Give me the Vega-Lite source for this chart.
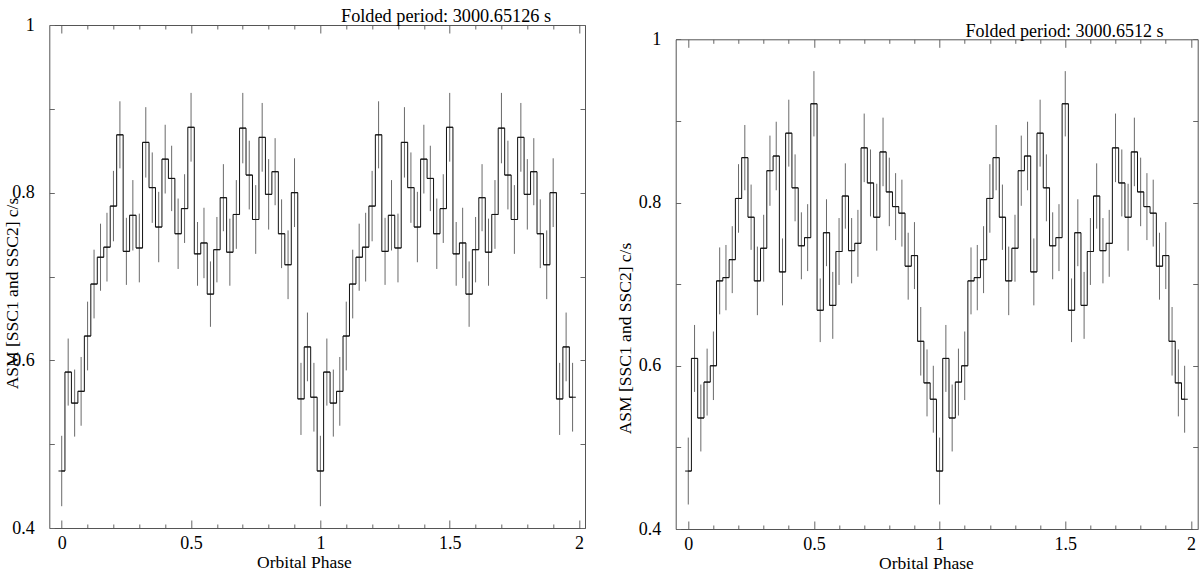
{
  "$schema": "https://vega.github.io/schema/vega-lite/v6.json",
  "background": "white",
  "autosize": {"type": "none"},
  "padding": {"left": 49.3, "top": 25, "right": 2.3, "bottom": 44},
  "width": 1148.4,
  "height": 504,
  "config": {"view": {"stroke": null}, "font": "Liberation Serif"},
  "datasets": {
    "left": [
      {"phase":0,"rate":0.468,"err":0.042},{"phase":0.025,"rate":0.586,"err":0.040},{"phase":0.05,"rate":0.549,"err":0.040},{"phase":0.075,"rate":0.563,"err":0.041},
      {"phase":0.1,"rate":0.629,"err":0.041},{"phase":0.125,"rate":0.691,"err":0.041},{"phase":0.15,"rate":0.723,"err":0.040},{"phase":0.175,"rate":0.735,"err":0.041},
      {"phase":0.2,"rate":0.784,"err":0.042},{"phase":0.225,"rate":0.869,"err":0.040},{"phase":0.25,"rate":0.730,"err":0.040},{"phase":0.275,"rate":0.773,"err":0.042},
      {"phase":0.3,"rate":0.734,"err":0.041},{"phase":0.325,"rate":0.860,"err":0.042},{"phase":0.35,"rate":0.806,"err":0.042},{"phase":0.375,"rate":0.759,"err":0.042},
      {"phase":0.4,"rate":0.840,"err":0.041},{"phase":0.425,"rate":0.817,"err":0.039},{"phase":0.45,"rate":0.751,"err":0.042},{"phase":0.475,"rate":0.781,"err":0.041},
      {"phase":0.5,"rate":0.878,"err":0.041},{"phase":0.525,"rate":0.727,"err":0.038},{"phase":0.55,"rate":0.740,"err":0.042},{"phase":0.575,"rate":0.679,"err":0.039},
      {"phase":0.6,"rate":0.732,"err":0.039},{"phase":0.625,"rate":0.794,"err":0.040},{"phase":0.65,"rate":0.729,"err":0.040},{"phase":0.675,"rate":0.774,"err":0.041},
      {"phase":0.7,"rate":0.877,"err":0.042},{"phase":0.725,"rate":0.821,"err":0.041},{"phase":0.75,"rate":0.768,"err":0.041},{"phase":0.775,"rate":0.866,"err":0.041},
      {"phase":0.8,"rate":0.798,"err":0.042},{"phase":0.825,"rate":0.825,"err":0.040},{"phase":0.85,"rate":0.751,"err":0.041},{"phase":0.875,"rate":0.714,"err":0.041},
      {"phase":0.9,"rate":0.800,"err":0.041},{"phase":0.925,"rate":0.554,"err":0.043},{"phase":0.95,"rate":0.616,"err":0.041},{"phase":0.975,"rate":0.556,"err":0.041},
      {"phase":1,"rate":0.468,"err":0.042},{"phase":1.025,"rate":0.586,"err":0.040},{"phase":1.05,"rate":0.549,"err":0.040},{"phase":1.075,"rate":0.563,"err":0.041},
      {"phase":1.1,"rate":0.629,"err":0.041},{"phase":1.125,"rate":0.691,"err":0.041},{"phase":1.15,"rate":0.723,"err":0.040},{"phase":1.175,"rate":0.735,"err":0.041},
      {"phase":1.2,"rate":0.784,"err":0.042},{"phase":1.225,"rate":0.869,"err":0.040},{"phase":1.25,"rate":0.730,"err":0.040},{"phase":1.275,"rate":0.773,"err":0.042},
      {"phase":1.3,"rate":0.734,"err":0.041},{"phase":1.325,"rate":0.860,"err":0.042},{"phase":1.35,"rate":0.806,"err":0.042},{"phase":1.375,"rate":0.759,"err":0.042},
      {"phase":1.4,"rate":0.840,"err":0.041},{"phase":1.425,"rate":0.817,"err":0.039},{"phase":1.45,"rate":0.751,"err":0.042},{"phase":1.475,"rate":0.781,"err":0.041},
      {"phase":1.5,"rate":0.878,"err":0.041},{"phase":1.525,"rate":0.727,"err":0.038},{"phase":1.55,"rate":0.740,"err":0.042},{"phase":1.575,"rate":0.679,"err":0.039},
      {"phase":1.6,"rate":0.732,"err":0.039},{"phase":1.625,"rate":0.794,"err":0.040},{"phase":1.65,"rate":0.729,"err":0.040},{"phase":1.675,"rate":0.774,"err":0.041},
      {"phase":1.7,"rate":0.877,"err":0.042},{"phase":1.725,"rate":0.821,"err":0.041},{"phase":1.75,"rate":0.768,"err":0.041},{"phase":1.775,"rate":0.866,"err":0.041},
      {"phase":1.8,"rate":0.798,"err":0.042},{"phase":1.825,"rate":0.825,"err":0.040},{"phase":1.85,"rate":0.751,"err":0.041},{"phase":1.875,"rate":0.714,"err":0.041},
      {"phase":1.9,"rate":0.800,"err":0.041},{"phase":1.925,"rate":0.554,"err":0.043},{"phase":1.95,"rate":0.616,"err":0.041},{"phase":1.975,"rate":0.556,"err":0.041}
    ],
    "right": [
      {"phase":0,"rate":0.471,"err":0.041},{"phase":0.025,"rate":0.609,"err":0.041},{"phase":0.05,"rate":0.536,"err":0.041},{"phase":0.075,"rate":0.580,"err":0.041},
      {"phase":0.1,"rate":0.600,"err":0.042},{"phase":0.125,"rate":0.704,"err":0.041},{"phase":0.15,"rate":0.708,"err":0.040},{"phase":0.175,"rate":0.730,"err":0.041},
      {"phase":0.2,"rate":0.805,"err":0.042},{"phase":0.225,"rate":0.855,"err":0.040},{"phase":0.25,"rate":0.782,"err":0.040},{"phase":0.275,"rate":0.704,"err":0.042},
      {"phase":0.3,"rate":0.744,"err":0.041},{"phase":0.325,"rate":0.839,"err":0.043},{"phase":0.35,"rate":0.857,"err":0.042},{"phase":0.375,"rate":0.715,"err":0.041},
      {"phase":0.4,"rate":0.885,"err":0.041},{"phase":0.425,"rate":0.818,"err":0.041},{"phase":0.45,"rate":0.747,"err":0.041},{"phase":0.475,"rate":0.757,"err":0.041},
      {"phase":0.5,"rate":0.921,"err":0.040},{"phase":0.525,"rate":0.668,"err":0.039},{"phase":0.55,"rate":0.763,"err":0.041},{"phase":0.575,"rate":0.674,"err":0.041},
      {"phase":0.6,"rate":0.740,"err":0.041},{"phase":0.625,"rate":0.808,"err":0.040},{"phase":0.65,"rate":0.741,"err":0.040},{"phase":0.675,"rate":0.750,"err":0.041},
      {"phase":0.7,"rate":0.867,"err":0.042},{"phase":0.725,"rate":0.824,"err":0.041},{"phase":0.75,"rate":0.782,"err":0.041},{"phase":0.775,"rate":0.862,"err":0.042},
      {"phase":0.8,"rate":0.813,"err":0.042},{"phase":0.825,"rate":0.795,"err":0.041},{"phase":0.85,"rate":0.787,"err":0.041},{"phase":0.875,"rate":0.722,"err":0.041},
      {"phase":0.9,"rate":0.735,"err":0.041},{"phase":0.925,"rate":0.630,"err":0.042},{"phase":0.95,"rate":0.579,"err":0.041},{"phase":0.975,"rate":0.559,"err":0.041},
      {"phase":1,"rate":0.471,"err":0.041},{"phase":1.025,"rate":0.609,"err":0.041},{"phase":1.05,"rate":0.536,"err":0.041},{"phase":1.075,"rate":0.580,"err":0.041},
      {"phase":1.1,"rate":0.600,"err":0.042},{"phase":1.125,"rate":0.704,"err":0.041},{"phase":1.15,"rate":0.708,"err":0.040},{"phase":1.175,"rate":0.730,"err":0.041},
      {"phase":1.2,"rate":0.805,"err":0.042},{"phase":1.225,"rate":0.855,"err":0.040},{"phase":1.25,"rate":0.782,"err":0.040},{"phase":1.275,"rate":0.704,"err":0.042},
      {"phase":1.3,"rate":0.744,"err":0.041},{"phase":1.325,"rate":0.839,"err":0.043},{"phase":1.35,"rate":0.857,"err":0.042},{"phase":1.375,"rate":0.715,"err":0.041},
      {"phase":1.4,"rate":0.885,"err":0.041},{"phase":1.425,"rate":0.818,"err":0.041},{"phase":1.45,"rate":0.747,"err":0.041},{"phase":1.475,"rate":0.757,"err":0.041},
      {"phase":1.5,"rate":0.921,"err":0.040},{"phase":1.525,"rate":0.668,"err":0.039},{"phase":1.55,"rate":0.763,"err":0.041},{"phase":1.575,"rate":0.674,"err":0.041},
      {"phase":1.6,"rate":0.740,"err":0.041},{"phase":1.625,"rate":0.808,"err":0.040},{"phase":1.65,"rate":0.741,"err":0.040},{"phase":1.675,"rate":0.750,"err":0.041},
      {"phase":1.7,"rate":0.867,"err":0.042},{"phase":1.725,"rate":0.824,"err":0.041},{"phase":1.75,"rate":0.782,"err":0.041},{"phase":1.775,"rate":0.862,"err":0.042},
      {"phase":1.8,"rate":0.813,"err":0.042},{"phase":1.825,"rate":0.795,"err":0.041},{"phase":1.85,"rate":0.787,"err":0.041},{"phase":1.875,"rate":0.722,"err":0.041},
      {"phase":1.9,"rate":0.735,"err":0.041},{"phase":1.925,"rate":0.630,"err":0.042},{"phase":1.95,"rate":0.579,"err":0.041},{"phase":1.975,"rate":0.559,"err":0.041}
    ]
  },
  "resolve": {"scale": {"x": "independent", "y": "independent"}, "axis": {"x": "independent", "y": "independent"}},
  "layer": [
    {
      "data": {"name": "left"},
      "mark": {"type": "errorbar", "ticks": false, "color": "#6a6a6a", "thickness": 1},
      "encoding": {
        "x": {"field": "phase", "type": "quantitative", "scale": {"domain": [-0.048, 2.023], "range": [0, 535.7], "nice": false, "zero": false},
          "axis": {"orient": "bottom", "offset": -1, "values": [0,0.1,0.2,0.3,0.4,0.5,0.6,0.7,0.8,0.9,1,1.1,1.2,1.3,1.4,1.5,1.6,1.7,1.8,1.9,2], "format": "~g",
            "labelExpr": "abs(datum.value*2-round(datum.value*2))<0.001 ? datum.label : ''",
            "tickSize": {"condition": {"test": "abs(datum.value*2-round(datum.value*2))<0.001", "value": -8}, "value": -4},
            "tickColor": "#666", "tickWidth": 1, "domain": true, "domainColor": "#555", "domainWidth": 1, "grid": false, "labelPadding": 14.7,
            "labelFont": "Liberation Serif", "labelFontSize": 18, "labelColor": "#000", "labelFlush": false, "labelOverlap": false, "labelBound": false,
            "title": "Orbital Phase", "titleFont": "Liberation Serif", "titleFontSize": 17.5, "titleFontWeight": "normal", "titleColor": "#000",
            "titleX": 254.7, "titleY": 39.5, "titleBaseline": "alphabetic", "titleAlign": "center"}},
        "y": {"field": "rate", "type": "quantitative", "scale": {"domain": [0.4, 1], "range": [503, 0], "nice": false, "zero": false},
          "axis": {"orient": "left", "values": [0.4,0.5,0.6,0.7,0.8,0.9,1], "format": "~g",
            "labelExpr": "round(datum.value*10)%2==0 ? datum.label : ''",
            "tickSize": -5, "tickColor": "#666", "tickWidth": 1, "domain": true, "domainColor": "#555", "domainWidth": 1, "grid": false, "labelPadding": 20,
            "labelFont": "Liberation Serif", "labelFontSize": 18, "labelColor": "#000", "labelFlush": false, "labelOverlap": false,
            "title": "ASM [SSC1 and SSC2] c/s", "titleFont": "Liberation Serif", "titleFontSize": 17.5, "titleFontWeight": "normal", "titleColor": "#000",
            "titleX": -37.3, "titleY": 268, "titleBaseline": "middle", "titleAlign": "center", "titleAngle": 270}},
        "yError": {"field": "err"}
      }
    },
    {
      "data": {"name": "left"},
      "mark": {"type": "line", "interpolate": "step", "color": "#111", "strokeWidth": 1},
      "encoding": {
        "x": {"field": "phase", "type": "quantitative", "scale": {"domain": [-0.048, 2.023], "range": [0, 535.7], "nice": false, "zero": false},
          "axis": {"orient": "top", "values": [0,0.1,0.2,0.3,0.4,0.5,0.6,0.7,0.8,0.9,1,1.1,1.2,1.3,1.4,1.5,1.6,1.7,1.8,1.9,2], "labels": false,
            "tickSize": {"condition": {"test": "abs(datum.value*2-round(datum.value*2))<0.001", "value": -8}, "value": -4},
            "tickColor": "#666", "tickWidth": 1, "domain": true, "domainColor": "#555", "domainWidth": 1, "grid": false,
            "title": "Folded period: 3000.65126 s", "titleFont": "Liberation Serif", "titleFontSize": 18.3, "titleFontWeight": "normal", "titleColor": "#000",
            "titleX": 501.4, "titleY": -4, "titleAlign": "right", "titleBaseline": "alphabetic"}},
        "y": {"field": "rate", "type": "quantitative", "scale": {"domain": [0.4, 1], "range": [503, 0], "nice": false, "zero": false},
          "axis": {"orient": "right", "offset": -612.7, "values": [0.4,0.5,0.6,0.7,0.8,0.9,1], "labels": false, "tickSize": -5, "tickColor": "#666", "tickWidth": 1,
            "domain": true, "domainColor": "#555", "domainWidth": 1, "grid": false, "title": null}}
      }
    },
    {
      "data": {"name": "left"},
      "mark": {"type": "tick", "orient": "horizontal", "size": 6.47, "thickness": 1, "color": "#111", "opacity": 1},
      "encoding": {
        "x": {"field": "phase", "type": "quantitative", "scale": {"domain": [-0.048, 2.023], "range": [0, 535.7], "nice": false, "zero": false}, "axis": null},
        "y": {"field": "rate", "type": "quantitative", "scale": {"domain": [0.4, 1], "range": [503, 0], "nice": false, "zero": false}, "axis": null}
      }
    },
    {
      "data": {"name": "right"},
      "mark": {"type": "errorbar", "ticks": false, "color": "#6a6a6a", "thickness": 1},
      "encoding": {
        "x": {"field": "phase", "type": "quantitative", "scale": {"domain": [-0.05, 2.027], "range": [626.4, 1148.4], "nice": false, "zero": false},
          "axis": {"orient": "bottom", "values": [0,0.1,0.2,0.3,0.4,0.5,0.6,0.7,0.8,0.9,1,1.1,1.2,1.3,1.4,1.5,1.6,1.7,1.8,1.9,2], "format": "~g",
            "labelExpr": "abs(datum.value*2-round(datum.value*2))<0.001 ? datum.label : ''",
            "tickSize": {"condition": {"test": "abs(datum.value*2-round(datum.value*2))<0.001", "value": -8}, "value": -4},
            "tickColor": "#666", "tickWidth": 1, "domain": true, "domainColor": "#555", "domainWidth": 1, "grid": false, "labelPadding": 14.7,
            "labelFont": "Liberation Serif", "labelFontSize": 18, "labelColor": "#000", "labelFlush": false, "labelOverlap": false, "labelBound": false,
            "title": "Orbital Phase", "titleFont": "Liberation Serif", "titleFontSize": 17.5, "titleFontWeight": "normal", "titleColor": "#000",
            "titleX": 876.7, "titleY": 39.5, "titleBaseline": "alphabetic", "titleAlign": "center"}},
        "y": {"field": "rate", "type": "quantitative", "scale": {"domain": [0.4, 1], "range": [504, 14.3], "nice": false, "zero": false},
          "axis": {"orient": "left", "offset": -626.4, "values": [0.4,0.5,0.6,0.7,0.8,0.9,1], "format": "~g",
            "labelExpr": "round(datum.value*10)%2==0 ? datum.label : ''",
            "tickSize": -5, "tickColor": "#666", "tickWidth": 1, "domain": true, "domainColor": "#555", "domainWidth": 1, "grid": false, "labelPadding": 20,
            "labelFont": "Liberation Serif", "labelFontSize": 18, "labelColor": "#000", "labelFlush": false, "labelOverlap": false,
            "title": "ASM [SSC1 and SSC2] c/s", "titleFont": "Liberation Serif", "titleFontSize": 17.5, "titleFontWeight": "normal", "titleColor": "#000",
            "titleX": -50.7, "titleY": 313, "titleBaseline": "middle", "titleAlign": "center", "titleAngle": 270}},
        "yError": {"field": "err"}
      }
    },
    {
      "data": {"name": "right"},
      "mark": {"type": "line", "interpolate": "step", "color": "#111", "strokeWidth": 1},
      "encoding": {
        "x": {"field": "phase", "type": "quantitative", "scale": {"domain": [-0.05, 2.027], "range": [626.4, 1148.4], "nice": false, "zero": false},
          "axis": {"orient": "top", "offset": -14.3, "values": [0,0.1,0.2,0.3,0.4,0.5,0.6,0.7,0.8,0.9,1,1.1,1.2,1.3,1.4,1.5,1.6,1.7,1.8,1.9,2], "labels": false,
            "tickSize": {"condition": {"test": "abs(datum.value*2-round(datum.value*2))<0.001", "value": -8}, "value": -4},
            "tickColor": "#666", "tickWidth": 1, "domain": true, "domainColor": "#555", "domainWidth": 1, "grid": false,
            "title": "Folded period: 3000.6512 s", "titleFont": "Liberation Serif", "titleFontSize": 18, "titleFontWeight": "normal", "titleColor": "#000",
            "titleX": 1113.7, "titleY": -3.3, "titleAlign": "right", "titleBaseline": "alphabetic"}},
        "y": {"field": "rate", "type": "quantitative", "scale": {"domain": [0.4, 1], "range": [504, 14.3], "nice": false, "zero": false},
          "axis": {"orient": "right", "values": [0.4,0.5,0.6,0.7,0.8,0.9,1], "labels": false, "tickSize": -5, "tickColor": "#666", "tickWidth": 1,
            "domain": true, "domainColor": "#555", "domainWidth": 1, "grid": false, "title": null}}
      }
    },
    {
      "data": {"name": "right"},
      "mark": {"type": "tick", "orient": "horizontal", "size": 6.28, "thickness": 1, "color": "#111", "opacity": 1},
      "encoding": {
        "x": {"field": "phase", "type": "quantitative", "scale": {"domain": [-0.05, 2.027], "range": [626.4, 1148.4], "nice": false, "zero": false}, "axis": null},
        "y": {"field": "rate", "type": "quantitative", "scale": {"domain": [0.4, 1], "range": [504, 14.3], "nice": false, "zero": false}, "axis": null}
      }
    }
  ]
}
